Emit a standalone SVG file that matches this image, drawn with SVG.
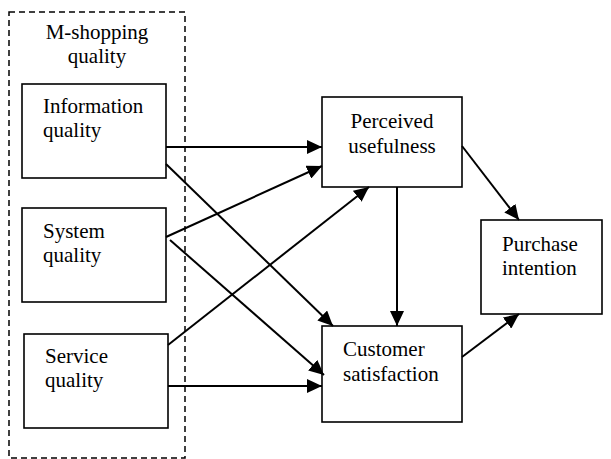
<svg xmlns="http://www.w3.org/2000/svg" width="611" height="459" viewBox="0 0 611 459">
<style>
.box{fill:#fff;stroke:#000;stroke-width:1.6}
.grp{fill:none;stroke:#000;stroke-width:1.5;stroke-dasharray:6,4}
text{font-family:"Liberation Serif","Times New Roman",serif;font-size:21px;fill:#000}
.c{stroke:#000;stroke-width:2;fill:none;marker-end:url(#ah)}
</style>
<defs>
<marker id="ah" markerUnits="userSpaceOnUse" markerWidth="16" markerHeight="14" refX="15" refY="7" orient="auto">
<path d="M0,0 L15,7 L0,14 z" fill="#000"/>
</marker>
</defs>
<rect x="0" y="0" width="611" height="459" fill="#fff"/>
<g id="m-shopping-quality">
<rect class="grp" x="9" y="12" width="176" height="446"/>
<text x="97" y="39" text-anchor="middle">M-shopping</text>
<text x="97" y="63" text-anchor="middle">quality</text>
</g>
<g id="information-quality">
<rect class="box" x="22" y="84" width="144" height="94"/>
<text x="43" y="113">Information</text>
<text x="43" y="137">quality</text>
</g>
<g id="system-quality">
<rect class="box" x="22" y="208" width="144" height="94"/>
<text x="43" y="238">System</text>
<text x="43" y="262">quality</text>
</g>
<g id="service-quality">
<rect class="box" x="24" y="334" width="144" height="94"/>
<text x="45" y="363">Service</text>
<text x="45" y="387">quality</text>
</g>
<g id="perceived-usefulness">
<rect class="box" x="322" y="97" width="140" height="90"/>
<text x="392" y="128" text-anchor="middle">Perceived</text>
<text x="392" y="153" text-anchor="middle">usefulness</text>
</g>
<g id="customer-satisfaction">
<rect class="box" x="322" y="326" width="140" height="96"/>
<text x="343" y="356">Customer</text>
<text x="343" y="381">satisfaction</text>
</g>
<g id="purchase-intention">
<rect class="box" x="481" y="220" width="121" height="94"/>
<text x="502" y="251">Purchase</text>
<text x="502" y="275">intention</text>
</g>
<g id="connectors">
<line class="c" x1="166" y1="147" x2="322" y2="147"/>
<line class="c" x1="166" y1="164" x2="333" y2="326"/>
<line class="c" x1="166" y1="237" x2="322" y2="166"/>
<line class="c" x1="170" y1="240" x2="324" y2="375"/>
<line class="c" x1="168" y1="345" x2="369" y2="187"/>
<line class="c" x1="168" y1="386" x2="322" y2="386"/>
<line class="c" x1="397" y1="187" x2="397" y2="326"/>
<line class="c" x1="462" y1="146" x2="519" y2="220"/>
<line class="c" x1="462" y1="357" x2="519" y2="314"/>
</g>
</svg>
